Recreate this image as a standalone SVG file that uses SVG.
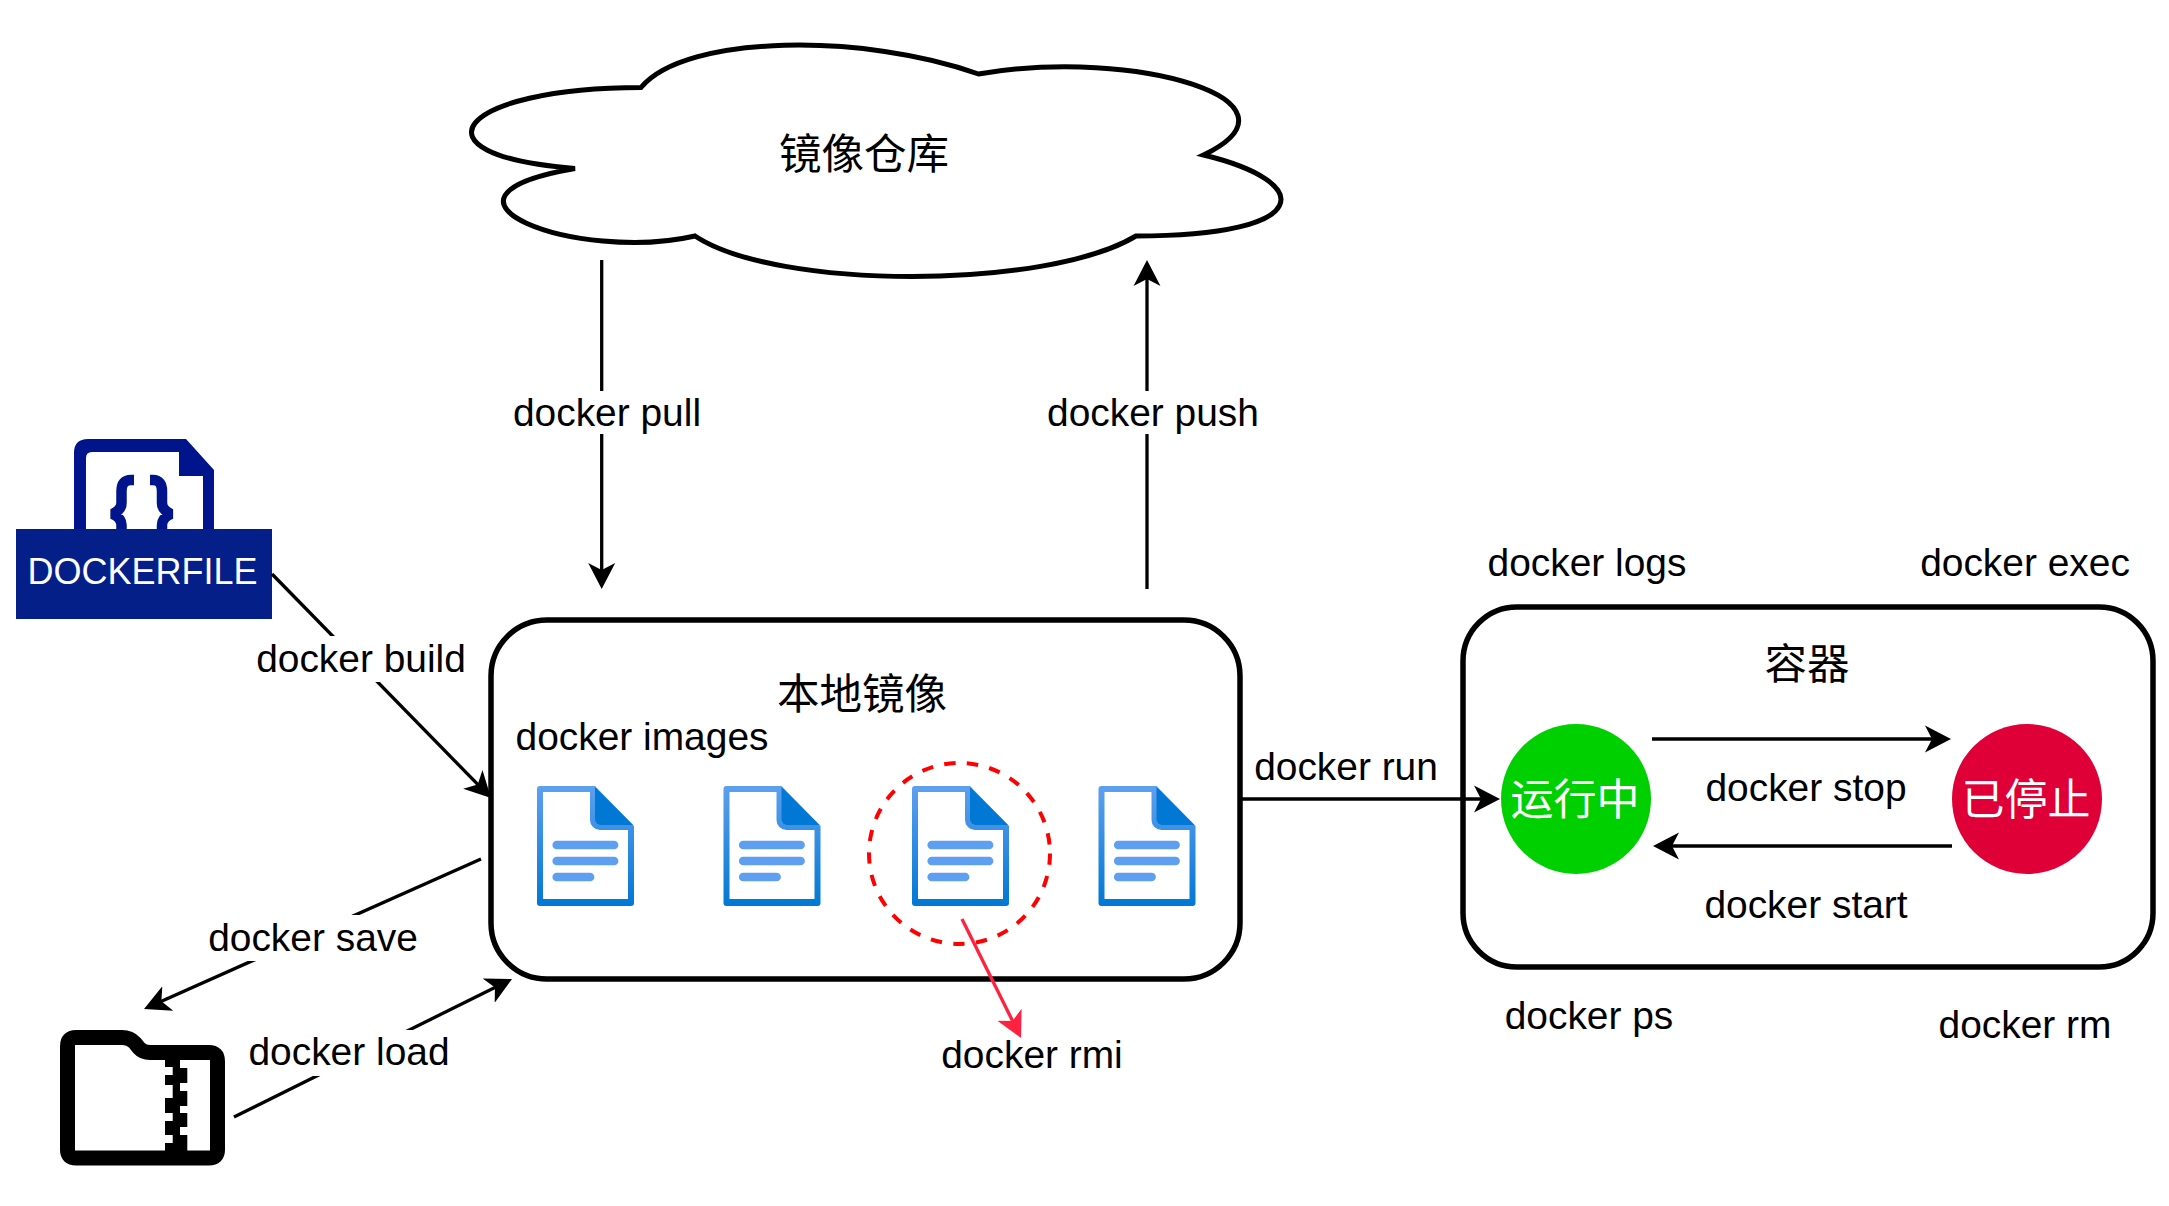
<svg xmlns="http://www.w3.org/2000/svg" width="2169" height="1206" viewBox="0 0 2169 1206">
<style>
text{font-family:"Liberation Sans","Noto Sans CJK SC",sans-serif;font-size:38.900px;fill:#000;text-anchor:middle}
.cjk{font-family:"Noto Sans CJK SC","Liberation Sans",sans-serif;font-size:42.500px}
.w{fill:#fff}
.box{fill:#fff;stroke:#000;stroke-width:5.500}
.c{fill:none;stroke:#000;stroke-width:3.300;marker-end:url(#a)}
.mask{fill:#fff}
.ln{fill:#5ea0ef}
</style>
<defs>
<marker id="a" markerUnits="userSpaceOnUse" markerWidth="30" markerHeight="30" refX="21" refY="15" orient="auto"><path d="M26,15 L0,1.5 L7,15 L0,28.5 Z" fill="#000"/></marker>
<marker id="r" markerUnits="userSpaceOnUse" markerWidth="30" markerHeight="30" refX="21" refY="15" orient="auto"><path d="M26,15 L0,1.5 L7,15 L0,28.5 Z" fill="#ff2240"/></marker>
<linearGradient id="g" x1="0" y1="0" x2="0" y2="1"><stop offset="0" stop-color="#5ea0ef"/><stop offset="1" stop-color="#0078d4"/></linearGradient>
<g id="doc">
<path d="M3,0 H58 L97,40 V117 a3,3 0 0 1 -3,3 H3 a3,3 0 0 1 -3,-3 V3 a3,3 0 0 1 3,-3 Z" fill="url(#g)"/>
<path d="M6,6 H53 V34 a10,10 0 0 0 10,10 H91 V113 H6 Z" fill="#fff"/>
<path d="M58,1 L96,39 H64 a6,6 0 0 1 -6,-6 Z" fill="#0078d4"/>
<rect class="ln" x="15.400" y="54.700" width="66" height="8.600" rx="4.300"/>
<rect class="ln" x="15.400" y="70.700" width="66" height="8.600" rx="4.300"/>
<rect class="ln" x="15.400" y="86.700" width="42" height="8.600" rx="4.300"/>
</g>
</defs>
<rect width="2169" height="1206" fill="#fff"/>
<g id="registry">
<path d="M641,87.500 C458,87.500 404,155 575,168.500 C404,198 578,263 695,236 C776,290 1046,290 1136,236 C1316,236 1316,182 1203.500,155 C1316,101 1136,47 978.500,74 C866,33.500 686,33.500 641,87.500 Z" fill="#fff" stroke="#000" stroke-width="5"/>
<text class="cjk" x="864" y="169">镜像仓库</text>
</g>
<g id="dockerfile">
<path d="M88,439 H186 L214,470 V529 H203 V476 H179 V452 H92 Q86,452 86,458 V529 H74 V453 Q74,439 88,439 Z" fill="#00148c"/>
<path d="M134,480 H131 Q121.500,480 121.500,491 V503 Q121.500,510 112.500,514 Q121.500,518 121.500,525 V530 M150,480 H153 Q162,480 162,491 V503 Q162,510 171,514 Q162,518 162,525 V530" fill="none" stroke="#00148c" stroke-width="10.500" stroke-linejoin="bevel"/>
<rect x="16" y="529" width="256" height="90" fill="#041f87"/>
<text class="w" x="142.500" y="584" style="font-size:36px">DOCKERFILE</text>
</g>
<g id="archive">
<path d="M67.500,1046 Q67.500,1037.500 76,1037.500 H122 Q130,1037.500 135,1043 L139,1048 Q143,1052.500 150,1052.500 H209 Q217.500,1052.500 217.500,1061 V1150 Q217.500,1158 209,1158 H76 Q67.500,1158 67.500,1150 Z" fill="#fff" stroke="#000" stroke-width="15"/>
<path d="M165,1060 H180 V1068 H187.300 V1083 H180 V1091 H187.300 V1106 H180 V1113 H187.300 V1127 H180 V1135 H187.300 V1151 H165 V1143 H172.700 V1135 H165 V1121 H172.700 V1113 H165 V1098 H172.700 V1085 H165 V1075 H172.700 V1067 H165 Z" fill="#000"/>
</g>
<g id="local-images">
<rect class="box" x="491" y="620" width="749" height="359" rx="56" ry="56"/>
<text class="cjk" x="862" y="709">本地镜像</text>
<text x="642" y="750">docker images</text>
<use id="image-1" href="#doc" x="537" y="786"/>
<use id="image-2" href="#doc" x="723.500" y="786"/>
<use id="image-3" href="#doc" x="912" y="786"/>
<use id="image-4" href="#doc" x="1098.500" y="786"/>
<circle id="rmi-ring" cx="959.500" cy="853.500" r="90.500" fill="none" stroke="#ff0000" stroke-width="4" stroke-dasharray="11.400 11.400"/>
</g>
<g id="container">
<rect class="box" x="1463" y="607" width="690" height="360" rx="54" ry="54"/>
<text class="cjk" x="1807" y="679">容器</text>
</g>
<g id="running">
<circle cx="1576" cy="799" r="75" fill="#00d000"/>
<text class="cjk w" x="1575" y="815" style="font-size:43px">运行中</text>
</g>
<g id="stopped">
<circle cx="2027" cy="799" r="75" fill="#de0037"/>
<text class="cjk w" x="2026" y="815" style="font-size:43px">已停止</text>
</g>
<g id="connectors">
<path class="c" d="M601.700,260 V584"/>
<path class="c" d="M1147,589 V265"/>
<path class="c" d="M272,574 L487.500,794.400"/>
<path class="c" d="M481,859 L148.600,1007"/>
<path class="c" d="M234,1117 L507.500,981.200"/>
<path class="c" d="M1240,799 H1495"/>
<path class="c" d="M1652,739 H1946"/>
<path class="c" d="M1952,846 H1658"/>
<path d="M962,919 L1018.800,1033.500" fill="none" stroke="#ff2240" stroke-width="3.300" marker-end="url(#r)"/>
</g>
<g id="labels">
<rect class="mask" x="510" y="391" width="194" height="43"/>
<text x="607" y="426">docker pull</text>
<rect class="mask" x="1045" y="391" width="214" height="43"/>
<text x="1153" y="426">docker push</text>
<rect class="mask" x="253" y="636" width="212" height="46"/>
<text x="361" y="672">docker build</text>
<rect class="mask" x="209" y="915" width="216" height="46"/>
<text x="313" y="951">docker save</text>
<rect class="mask" x="247" y="1030" width="208" height="46"/>
<text x="349" y="1065">docker load</text>
<text x="1032" y="1068">docker rmi</text>
<text x="1346" y="780">docker run</text>
<text x="1587" y="576">docker logs</text>
<text x="2025" y="576">docker exec</text>
<text x="1589" y="1029">docker ps</text>
<text x="2025" y="1038">docker rm</text>
<text x="1806" y="801">docker stop</text>
<text x="1806" y="918">docker start</text>
</g>
</svg>
